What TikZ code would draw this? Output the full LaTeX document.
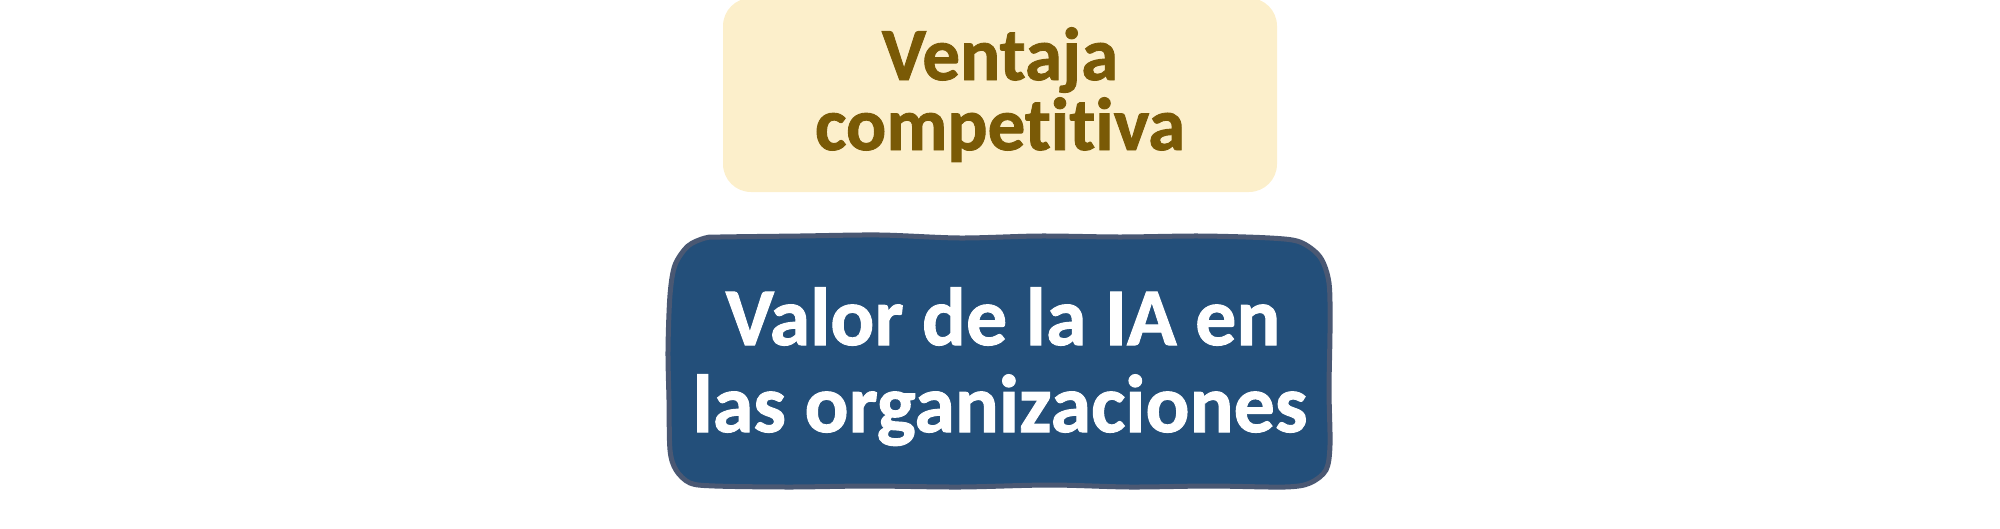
\documentclass[tikz,border=0pt]{standalone}
\usepackage{fontspec}
\setmainfont{Carlito}[Ligatures={NoCommon,NoContextual}, BoldFeatures={FakeBold=1.2}]
\definecolor{creamfill}{HTML}{FCEFCB}
\definecolor{goldtext}{HTML}{7A5A06}
\definecolor{navyfill}{HTML}{234F7A}
\definecolor{navyedge}{HTML}{4A5873}
\begin{document}
\begin{tikzpicture}[x=1pt,y=-1pt,
  topbox/.style={fill=creamfill, rounded corners=28pt, minimum width=554pt, minimum height=194pt, inner sep=0pt},
  toptext/.style={anchor=base, inner sep=0pt, text=goldtext, font=\bfseries\fontsize{75}{75}\selectfont},
  bottext/.style={anchor=base, inner sep=0pt, text=white, font=\bfseries\fontsize{82}{82}\selectfont}]
\useasboundingbox (0,0) rectangle (2000,528);
% top box
\node[topbox] (ventaja) at (1000,95) {};
\node[toptext] (ventaja1) at (1000,80) {Ventaja};
\node[toptext] (ventaja2) at (1000,150) {competitiva};
% bottom hand-drawn box
\draw[line width=5pt, draw=navyedge, fill=navyfill] plot[smooth cycle, tension=0.5] coordinates {
  (720,237) (800,236) (880,235) (960,238) (1040,236) (1120,237) (1200,236) (1270,238)
  (1300,242) (1320,257) (1329,283)
  (1330,330) (1329,390) (1330,445)
  (1326,470) (1310,483) (1285,487)
  (1210,486) (1130,487) (1050,485) (960,487) (870,486) (790,487) (715,486)
  (690,483) (676,470) (670,450)
  (669,400) (668,350) (670,295)
  (675,265) (688,246) (705,238)};
\node[bottext] (valor1) at (1003,345) {Valor de la IA en};
\node[bottext] (valor2) at (1000,432) {las organizaciones};
\end{tikzpicture}
\end{document}
